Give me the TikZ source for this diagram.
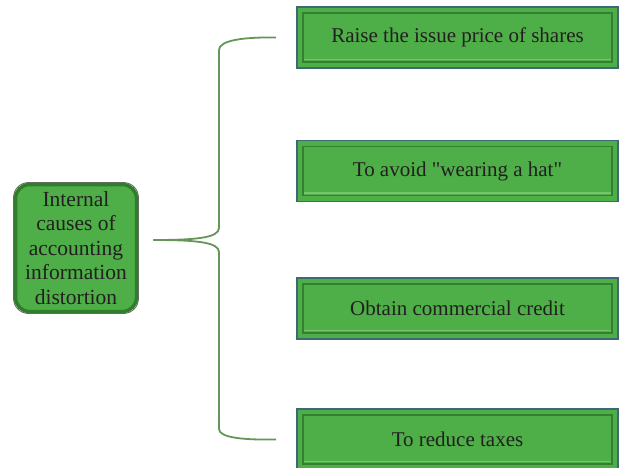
\documentclass[tikz,border=0pt]{standalone}
\usepackage{fontspec}
\setmainfont{Liberation Serif}
\usetikzlibrary{calc}
\definecolor{boxgreen}{RGB}{78,174,71}
\definecolor{boxedge}{RGB}{62,104,118}
\definecolor{bevdark}{RGB}{52,128,48}
\definecolor{bevlight}{RGB}{120,196,108}
\definecolor{rimgreen}{RGB}{48,126,44}
\definecolor{rimshadow}{RGB}{96,110,94}
\definecolor{linkgreen}{RGB}{100,150,90}
\definecolor{txt}{RGB}{35,31,32}
\tikzset{
  optbox/.style={draw=boxedge, line width=1.6pt, fill=boxgreen,
    minimum width=321pt, minimum height=61pt, inner sep=0pt,
    font=\fontsize{21}{24}\selectfont, text=txt,
    path picture={
      \draw[bevdark, line width=1.5pt]
        ([shift={(6pt,-6pt)}]path picture bounding box.north west) rectangle
        ([shift={(-6pt,6pt)}]path picture bounding box.south east);
      \draw[bevlight, line width=1.6pt]
        ([shift={(7pt,8.5pt)}]path picture bounding box.south west) --
        ([shift={(-7pt,8.5pt)}]path picture bounding box.south east);
    }},
  causebox/.style={draw=rimgreen, line width=3.5pt, fill=boxgreen,
    rounded corners=14pt, minimum width=121pt, minimum height=127pt,
    inner sep=0pt, align=center, text=txt,
    font=\fontsize{21.5}{24.5}\selectfont},
  link/.style={draw=linkgreen, line width=1.8pt}
}
\begin{document}
\begin{tikzpicture}[x=1pt,y=-1pt]
  \useasboundingbox (0,0) rectangle (626,467);

  % cause on the left, with a thin grey shadow line round its rim
  \node[causebox] (cause) at (76,248)
    {Internal\\causes of\\accounting\\information\\distortion};
  \draw[rimshadow, line width=0.9pt, rounded corners=15pt]
    ($(cause.north west)+(-0.2,-0.2)$) rectangle ($(cause.south east)+(0.2,0.2)$);

  % four motives on the right
  \node[optbox] (m1) at (457.5,37.5) {Raise the issue price of shares};
  \node[optbox] (m2) at (457.5,171)  {To avoid \textquotedbl wearing a hat\textquotedbl};
  \node[optbox] (m3) at (457.5,308.5) {Obtain commercial credit};
  \node[optbox] (m4) at (457.5,439.5) {To reduce taxes};

  % brace joining the cause to the motives
  \coordinate (hub) at ($(cause.east)+(15,-8)$);
  \coordinate (t1) at ($(m1.west)+(-20,0)$);
  \coordinate (t4) at ($(m4.west)+(-20,0)$);
  \draw[link] (hub) .. controls (195,240) and (219,238) .. (219,228)
    -- (219,50) .. controls (219,40) and (245,37) .. (t1);
  \draw[link] (hub) .. controls (195,240) and (219,242) .. (219,252)
    -- (219,429) .. controls (219,438) and (245,440) .. (t4);
\end{tikzpicture}
\end{document}
